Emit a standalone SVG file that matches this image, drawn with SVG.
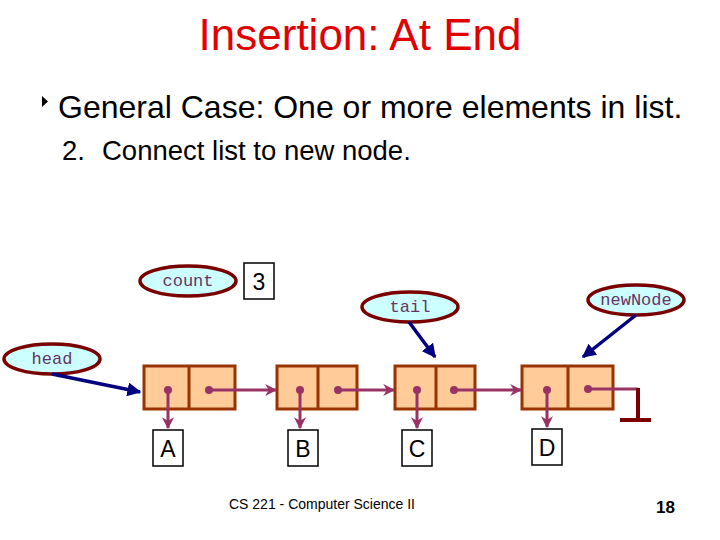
<svg xmlns="http://www.w3.org/2000/svg" width="720" height="540" viewBox="0 0 720 540">
<style>
.title{font-family:"Liberation Sans",Arial,sans-serif;font-size:44px;fill:#e00000;text-anchor:middle}
.body{font-family:"Liberation Sans",Arial,sans-serif;fill:#000}
.var ellipse{fill:#ccffff;stroke:#7a0000;stroke-width:3.5}
.var text{font-family:"Liberation Mono","Courier New",monospace;font-size:17px;fill:#663366;text-anchor:middle}
.cell{fill:#ffcc99;stroke:#993300;stroke-width:3}
.val rect{fill:#fff;stroke:#000;stroke-width:1.5}
.val text{font-family:"Liberation Sans",Arial,sans-serif;font-size:23px;fill:#000;text-anchor:middle}
.ptr{stroke:#993366;stroke-width:3;fill:none}
.ref{stroke:#000080;stroke-width:3.5;fill:none}
.dot{fill:#993366}
</style>
<defs>
<marker id="pa" viewBox="0 0 10 10" refX="9" refY="5" markerWidth="4" markerHeight="4" orient="auto" markerUnits="strokeWidth">
<path d="M0,0 L10,5 L0,10 L3,5 z" fill="#993366"/>
</marker>
<marker id="na" viewBox="0 0 10 10" refX="9" refY="5" markerWidth="4" markerHeight="4" orient="auto" markerUnits="strokeWidth">
<path d="M0,0 L10,5 L0,10 z" fill="#000080"/>
</marker>
</defs>
<rect width="720" height="540" fill="#fff"/>
<text class="title" x="360" y="50">Insertion: At End</text>
<polygon points="42,96 48,101.5 42,107" fill="#000"/>
<text class="body" x="58" y="118" font-size="32">General Case: One or more elements in list.</text>
<text class="body" x="62" y="160" font-size="27.5">2.<tspan x="102">Connect list to new node.</tspan></text>

<g id="count">
<g class="var"><ellipse cx="188" cy="281" rx="48" ry="15"/><text x="188" y="286">count</text></g>
</g>
<g id="countval" class="val"><rect x="244" y="263" width="30" height="36"/><text x="259" y="290">3</text></g>

<g id="head" class="var"><ellipse cx="52" cy="359" rx="48" ry="15"/><text x="52" y="364">head</text></g>
<g id="tail" class="var"><ellipse cx="410" cy="307" rx="48" ry="15"/><text x="410" y="312">tail</text></g>
<g id="newNode" class="var"><ellipse cx="636" cy="300" rx="48" ry="15"/><text x="636" y="305">newNode</text></g>

<g id="nodeA"><rect class="cell" x="144" y="366" width="91" height="43"/><line class="cell" x1="189" y1="366" x2="189" y2="409"/></g>
<g id="nodeB"><rect class="cell" x="277" y="366" width="80" height="43"/><line class="cell" x1="318" y1="366" x2="318" y2="409"/></g>
<g id="nodeC"><rect class="cell" x="395" y="366" width="80" height="43"/><line class="cell" x1="436" y1="366" x2="436" y2="409"/></g>
<g id="nodeD"><rect class="cell" x="522" y="366" width="91" height="43"/><line class="cell" x1="568" y1="366" x2="568" y2="409"/></g>

<g id="valA" class="val"><rect x="153" y="430" width="30" height="36"/><text x="168" y="457">A</text></g>
<g id="valB" class="val"><rect x="288" y="430" width="30" height="36"/><text x="303" y="457">B</text></g>
<g id="valC" class="val"><rect x="402" y="430" width="30" height="36"/><text x="417" y="457">C</text></g>
<g id="valD" class="val"><rect x="532" y="429" width="30" height="36"/><text x="547" y="456">D</text></g>

<g id="connectors">
<line class="ref" x1="52" y1="374" x2="140" y2="392" marker-end="url(#na)"/>
<line class="ref" x1="409" y1="322" x2="435" y2="357" marker-end="url(#na)"/>
<line class="ref" x1="636" y1="315" x2="583" y2="357" marker-end="url(#na)"/>

<line class="ptr" x1="168" y1="390" x2="168" y2="428" marker-end="url(#pa)"/>
<line class="ptr" x1="300" y1="390" x2="300" y2="428" marker-end="url(#pa)"/>
<line class="ptr" x1="417" y1="390" x2="417" y2="428" marker-end="url(#pa)"/>
<line class="ptr" x1="547" y1="390" x2="547" y2="427" marker-end="url(#pa)"/>

<line class="ptr" x1="209" y1="390" x2="276" y2="390" marker-end="url(#pa)"/>
<line class="ptr" x1="338" y1="390" x2="394" y2="390" marker-end="url(#pa)"/>
<line class="ptr" x1="454" y1="390" x2="521" y2="390" marker-end="url(#pa)"/>
<line class="ptr" x1="588" y1="389" x2="638" y2="389"/>
<polyline points="638,388 638,420" stroke="#7a0000" stroke-width="4" fill="none"/>
<line x1="620" y1="420" x2="651" y2="420" stroke="#7a0000" stroke-width="4"/>

<circle class="dot" cx="168" cy="390" r="4"/>
<circle class="dot" cx="209" cy="390" r="4"/>
<circle class="dot" cx="300" cy="390" r="4"/>
<circle class="dot" cx="338" cy="390" r="4"/>
<circle class="dot" cx="417" cy="390" r="4"/>
<circle class="dot" cx="454" cy="390" r="4"/>
<circle class="dot" cx="547" cy="390" r="4"/>
<circle class="dot" cx="588" cy="389" r="4"/>
</g>

<text class="body" x="229" y="509" font-size="14">CS 221 - Computer Science II</text>
<text class="body" x="656" y="513" font-size="17" font-weight="bold">18</text>
</svg>
